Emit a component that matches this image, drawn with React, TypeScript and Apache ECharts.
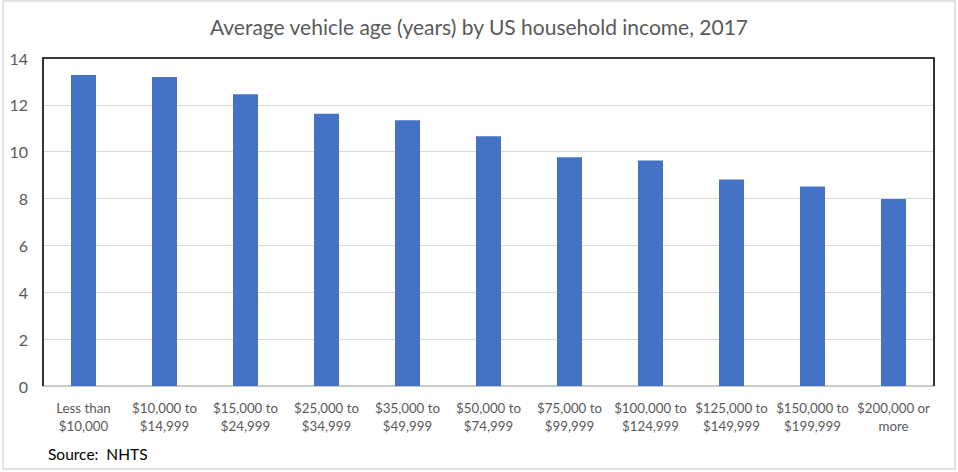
import React, { useEffect, useRef } from "react";
import * as echarts from "echarts";

const categories = [
  "Less than\n$10,000",
  "$10,000 to\n$14,999",
  "$15,000 to\n$24,999",
  "$25,000 to\n$34,999",
  "$35,000 to\n$49,999",
  "$50,000 to\n$74,999",
  "$75,000 to\n$99,999",
  "$100,000 to\n$124,999",
  "$125,000 to\n$149,999",
  "$150,000 to\n$199,999",
  "$200,000 or\nmore",
];
const avgAge = [13.27, 13.19, 12.45, 11.62, 11.34, 10.66, 9.76, 9.63, 8.81, 8.52, 7.98];
const titleText = "Average vehicle age (years) by US household income, 2017";
const sourceText = "Source:  NHTS";

const FONT = "Lato, 'Open Sans', sans-serif";

export default function App() {
  const ref = useRef<HTMLDivElement>(null);
  useEffect(() => {
    document.body.style.margin = "0";
    const chart = echarts.init(ref.current!, null, { renderer: "svg" });
    const L = 43, R = 934, T = 58, B = 386;
    chart.setOption({
      animation: false,
      backgroundColor: "#fff",
      title: {
        text: titleText,
        left: "center",
        top: 11,
        textStyle: { fontFamily: FONT, fontSize: 21, fontWeight: "normal", color: "#595959" },
      },
      grid: { left: L, right: 958 - R, top: T, bottom: 472 - B, show: false },
      xAxis: {
        type: "category",
        data: categories,
        axisLine: { show: true, lineStyle: { color: "#bfbfbf", width: 1.5 } },
        axisTick: { show: false },
        axisLabel: {
          interval: 0,
          margin: 13,
          fontFamily: FONT,
          fontSize: 13.3,
          lineHeight: 18,
          color: "#595959",
        },
      },
      yAxis: {
        type: "value",
        min: 0,
        max: 14,
        interval: 2,
        axisLine: { show: false },
        axisTick: { show: false },
        splitLine: { lineStyle: { color: "#d9d9d9", width: 1.2 } },
        axisLabel: { margin: 15, fontFamily: FONT, fontSize: 16, color: "#595959" },
      },
      series: [
        {
          type: "bar",
          data: avgAge,
          barWidth: 25,
          itemStyle: { color: "#4472C4" },
        },
      ],
      graphic: [
        {
          type: "rect",
          shape: { x: 3, y: 1, width: 952, height: 468 },
          style: { fill: "none", stroke: "#d9d9d9", lineWidth: 1.5 },
          silent: true,
        },
        {
          type: "polyline",
          shape: { points: [[L, B], [L, T], [R, T], [R, B]] },
          style: { fill: "none", stroke: "#000", lineWidth: 1.6 },
          z: 10,
          silent: true,
        },
        {
          type: "text",
          left: 48,
          top: 446,
          style: { text: sourceText, fontFamily: FONT, fontSize: 15.5, fill: "#000" },
        },
      ],
    });
    return () => chart.dispose();
  }, []);
  return <div ref={ref} style={{ width: 958, height: 472 }} />;
}
